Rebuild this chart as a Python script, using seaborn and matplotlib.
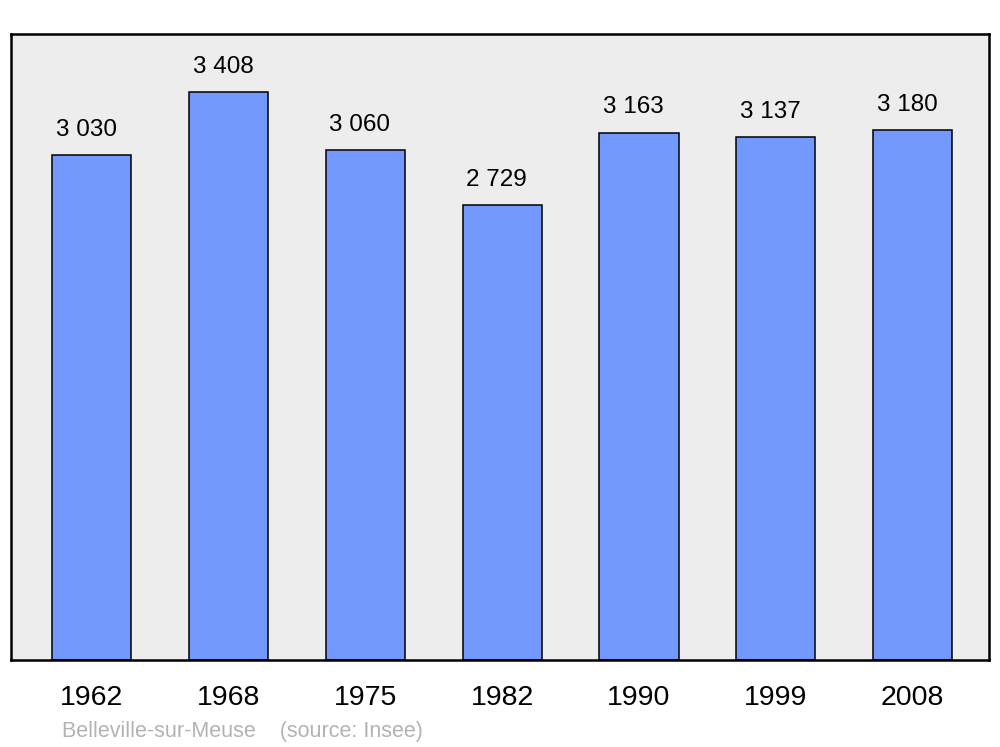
import matplotlib
matplotlib.use("Agg")
import matplotlib.pyplot as plt
import seaborn as sns
import pandas as pd

sns.set_style("white")
plt.rcParams['font.family'] = ['Liberation Sans', 'DejaVu Sans']
plt.rcParams['text.color'] = 'black'
plt.rcParams['xtick.color'] = 'black'

# === DATA ===
years = ["1962", "1968", "1975", "1982", "1990", "1999", "2008"]
population = [3030, 3408, 3060, 2729, 3163, 3137, 3180]
labels = ["3 030", "3 408", "3 060", "2 729", "3 163", "3 137", "3 180"]

df = pd.DataFrame({"year": years, "pop": population})

fig = plt.figure(figsize=(10, 7.47), dpi=100)
ax = fig.add_axes([0.011, 0.1165, 0.978, 0.838])
ax.set_facecolor("#ededed")

sns.barplot(data=df, x="year", y="pop", color="#7399ff", saturation=1,
            width=0.578, edgecolor="black", linewidth=1.1, ax=ax)

for i, (v, t) in enumerate(zip(population, labels)):
    ax.annotate(t, (i, v), xytext=(-4, 14), textcoords="offset points",
                ha="center", va="baseline", fontsize=17.5, color="black")

ax.set_xlim(-0.592, 6.559)
ax.set_ylim(0, 3756)
ax.set_yticks([])
ax.set_xlabel("")
ax.set_ylabel("")
ax.tick_params(axis="x", length=0, pad=18, labelsize=20.5, labelcolor="black")
for s in ax.spines.values():
    s.set_visible(True)
    s.set_linewidth(1.8)
    s.set_color("black")
    s.set_joinstyle("round")

fig.text(0.062, 1 - 737 / 747, "Belleville-sur-Meuse    (source: Insee)",
         color="#b3b3b3", fontsize=15.5, va="baseline")

plt.savefig("out.png")
